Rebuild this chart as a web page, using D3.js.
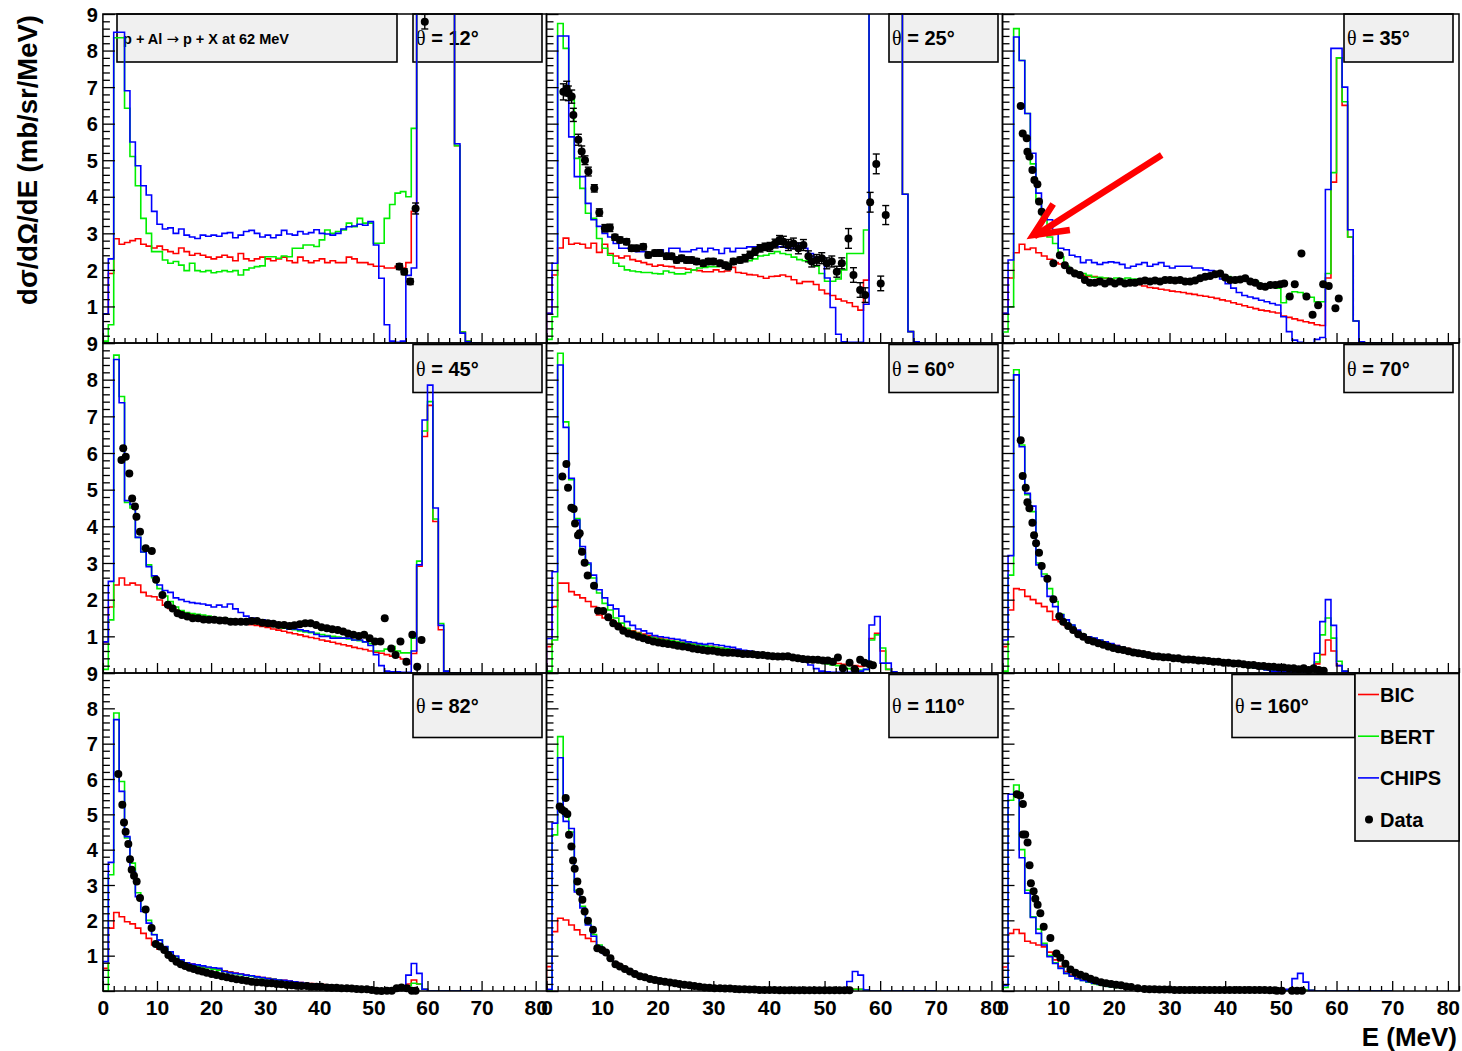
<!DOCTYPE html>
<html><head><meta charset="utf-8">
<script src="https://cdn.jsdelivr.net/npm/d3@7"></script>
<style>
body{margin:0;background:#fff}
svg text{font-family:"Liberation Sans",Arial,Helvetica,sans-serif;font-weight:bold;fill:#000}
</style></head>
<body><svg id="c" width="1462" height="1051"></svg>
<script>
// ---------------- DATA ----------------
const angles = ["12","25","35","45","60","70","82","110","160"];
const modelNames = ["BIC","BERT","CHIPS"];
const xTickValues = [0,10,20,30,40,50,60,70,80];
const yTickValues = [1,2,3,4,5,6,7,8,9];
const titleParts = ["p + Al ","\u2192"," p + X at 62 MeV"];
const yTitle = "d\u03c3/d\u03a9/dE (mb/sr/MeV)";
const xTitle = "E (MeV)";
// histogram bins: 1 MeV wide, 0..70 MeV (values above 9 are off scale)
const bic12 = [0.8,1.9,2.85,2.7,2.75,2.8,2.85,2.7,2.65,2.6,
 2.65,2.55,2.5,2.45,2.6,2.5,2.4,2.45,2.4,2.35,
 2.3,2.35,2.4,2.35,2.25,2.45,2.3,2.25,2.3,2.35,
 2.3,2.25,2.3,2.35,2.25,2.2,2.35,2.25,2.2,2.25,
 2.3,2.2,2.25,2.2,2.2,2.35,2.3,2.2,2.2,2.15,
 2.1,2.1,2.05,2.05,2.1,2.05,2.2,3.6,30,30,
 30,30,30,30,30,5.4,0.3,0.05,0,0];
const bert12 = [0.05,0.5,8.35,8.35,6.42,5.1,4.3,3.41,3.0,2.5,
 2.5,2.27,2.18,2.23,2.13,1.98,2.18,1.98,1.95,1.98,
 1.92,1.95,1.98,1.95,1.98,1.86,2.0,2.05,2.09,2.11,
 2.36,2.36,2.32,2.38,2.36,2.59,2.59,2.68,2.68,2.64,
 2.82,3.09,3.0,3.05,3.09,3.28,3.18,3.41,3.28,3.28,
 2.73,2.73,3.41,3.79,4.1,4.14,4.0,5.87,30,30,
 30,30,30,30,30,5.4,0.3,0.05,0,0];
const chips12 = [0.8,2.3,8.5,8.5,6.9,5.5,4.85,4.3,4.05,3.6,
 3.25,3.12,3.15,3.0,3.12,2.95,2.9,2.86,2.95,2.92,
 2.95,2.92,3.0,3.02,2.88,2.95,3.05,3.08,3.0,2.9,
 2.95,2.88,2.95,3.08,2.98,2.95,3.05,2.98,3.02,3.1,
 3.0,2.98,2.95,3.0,3.12,3.18,3.2,3.25,3.22,3.32,
 2.68,1.77,0.5,0.05,0.02,0.05,1.85,2.05,30,30,
 30,30,30,30,30,5.45,0.27,0.03,0,0];
const data12 = [[54.8,2.09,0.08],[55.7,1.95,0.08],[56.8,1.68,0.08],[57.8,3.68,0.15],[59.5,8.79,0.2]];

const bic25 = [0.81,1.86,2.6,2.87,2.7,2.73,2.7,2.6,2.73,2.48,
 2.7,2.45,2.38,2.33,2.38,2.28,2.24,2.2,2.15,2.1,
 2.13,2.1,2.09,2.05,2.05,2.02,2.0,1.98,1.95,1.95,
 2.0,1.95,1.97,2.07,1.93,1.91,1.87,1.86,1.82,1.77,
 1.82,1.83,1.86,1.82,1.73,1.63,1.68,1.68,1.6,1.45,
 1.35,1.3,1.2,1.15,1.1,1.0,0.9,1.72,30,30,
 30,30,30,30,4.07,0.31,0.03,0,0,0];
const bert25 = [0.1,0.72,8.74,8.06,6.65,5.05,4.23,3.55,3.41,2.86,
 2.59,2.4,2.18,2.1,2.0,1.97,1.95,1.93,1.93,1.9,
 1.89,1.97,1.93,1.89,1.89,1.93,2.0,2.05,2.07,2.09,
 2.09,2.13,2.18,2.18,2.28,2.28,2.25,2.3,2.38,2.4,
 2.45,2.5,2.45,2.42,2.35,2.28,2.25,2.2,2.1,1.9,
 1.69,1.69,1.75,2.0,2.45,2.45,2.45,3.09,30,30,
 30,30,30,30,4.07,0.31,0.03,0,0,0];
const chips25 = [0.81,2.18,8.4,8.4,5.64,4.55,4.55,3.82,3.37,3.19,
 3.0,2.9,2.72,2.59,2.59,2.55,2.5,2.5,2.45,2.45,
 2.55,2.45,2.59,2.59,2.5,2.5,2.55,2.59,2.5,2.59,
 2.55,2.45,2.59,2.5,2.59,2.59,2.63,2.63,2.68,2.68,
 2.63,2.63,2.63,2.59,2.59,2.72,2.59,2.45,2.35,2.35,
 1.78,0.97,0.24,0.03,0.02,0.02,0.02,1.06,30,30,
 30,30,30,30,4.07,0.31,0.03,0,0,0];
const data25 = [[3.03,6.87,0.22],[3.63,6.96,0.2],[3.93,6.83,0.2],[4.53,6.74,0.18],[4.83,6.24,0.18],[5.73,5.56,0.15],[6.33,5.24,0.15],[6.92,5.0,0.12],[7.52,4.69,0.12],[8.6,4.23,0.1],[9.5,3.57,0.1],[10.5,3.14,0.1],[11.4,3.15,0.1],[12.3,2.89,0.08],[13.2,2.82,0.08],[14.4,2.77,0.08],[15.3,2.59,0.08],[16.2,2.59,0.08],[17.4,2.63,0.08],[18.3,2.41,0.08],[19.5,2.46,0.08],[20.4,2.46,0.08],[21.6,2.37,0.08],[22.5,2.37,0.08],[23.4,2.27,0.08],[24.3,2.32,0.08],[25.2,2.27,0.08],[26.1,2.27,0.08],[27.0,2.23,0.08],[28.2,2.18,0.08],[29.1,2.23,0.08],[30.0,2.23,0.08],[31.2,2.18,0.08],[32.1,2.13,0.08],[32.7,2.09,0.08],[33.6,2.23,0.08],[34.8,2.27,0.08],[35.7,2.32,0.1],[36.6,2.41,0.1],[37.5,2.5,0.1],[38.4,2.59,0.1],[39.3,2.63,0.1],[40.2,2.63,0.12],[41.1,2.72,0.12],[41.9,2.82,0.12],[42.6,2.77,0.15],[43.5,2.68,0.15],[44.4,2.72,0.15],[45.3,2.59,0.15],[46.2,2.68,0.15],[47.1,2.37,0.15],[47.7,2.23,0.15],[48.6,2.27,0.15],[49.5,2.32,0.15],[50.4,2.18,0.15],[51.3,2.23,0.15],[52.2,1.95,0.15],[53.1,2.18,0.15],[54.3,2.86,0.27],[55.2,1.86,0.2],[56.4,1.45,0.2],[57.3,1.31,0.2],[58.2,3.85,0.27],[59.3,4.9,0.27],[60.1,1.63,0.2],[61.0,3.5,0.26]];

const bic35 = [0.81,1.78,2.47,2.7,2.56,2.6,2.47,2.38,2.29,2.2,
 2.16,2.07,1.98,1.89,1.85,1.82,1.82,1.77,1.77,1.73,
 1.7,1.68,1.66,1.62,1.6,1.56,1.52,1.5,1.47,1.45,
 1.42,1.4,1.38,1.35,1.33,1.3,1.28,1.25,1.22,1.18,
 1.15,1.1,1.06,1.02,0.98,0.94,0.9,0.88,0.85,0.82,
 0.74,0.7,0.66,0.62,0.58,0.55,0.5,0.48,1.78,4.4,
 7.8,6.5,2.9,0.6,0.03,0,0,0,0,0];
const bert35 = [0.3,0.99,8.6,7.73,6.28,4.9,3.9,3.45,2.9,2.72,
 2.36,2.1,1.98,1.95,1.9,1.85,1.8,1.8,1.78,1.75,
 1.78,1.75,1.78,1.75,1.75,1.72,1.75,1.75,1.72,1.75,
 1.72,1.75,1.72,1.72,1.75,1.78,1.82,1.85,1.82,1.85,
 1.82,1.75,1.72,1.7,1.72,1.68,1.6,1.58,1.55,1.5,
 1.1,1.27,1.4,1.38,1.31,1.25,1.13,1.13,1.9,4.66,
 7.8,6.6,2.9,0.6,0.03,0,0,0,0,0];
const chips35 = [0.81,2.27,8.37,7.73,6.28,5.19,4.1,3.55,3.37,3.0,
 2.59,2.55,2.4,2.36,2.2,2.27,2.2,2.15,2.2,2.22,
 2.2,2.15,2.05,2.1,2.15,2.2,2.1,2.15,2.2,2.1,
 2.05,2.1,2.1,2.1,2.05,2.05,2.0,1.98,1.9,1.75,
 1.62,1.5,1.38,1.3,1.26,1.22,1.17,1.13,1.08,1.04,
 0.72,0.31,0.08,0.02,0,0,0.1,0.15,4.2,8.06,
 8.06,7.0,3.1,0.6,0.03,0,0,0,0,0];
const data35 = [[3.27,6.48],[3.63,5.73],[4.35,5.6],[4.47,5.23],[4.83,5.1],[5.37,4.73],[5.73,4.46],[6.27,4.34],[6.56,3.87],[7.04,3.59],[9.14,2.18],[10.3,2.4],[11.2,2.13],[12.1,1.98],[13.0,1.9],[13.9,1.86],[14.8,1.72],[15.7,1.65],[16.6,1.65],[17.5,1.68],[18.4,1.63],[19.3,1.68],[20.2,1.63],[21.1,1.68],[22.0,1.63],[22.9,1.65],[23.8,1.65],[24.7,1.68],[25.6,1.71],[26.5,1.68],[27.4,1.71],[28.3,1.68],[29.2,1.72],[30.1,1.72],[31.0,1.71],[31.9,1.72],[32.8,1.68],[33.7,1.68],[34.6,1.71],[35.5,1.77],[36.4,1.81],[37.3,1.83],[38.2,1.88],[39.1,1.9],[40.0,1.79],[40.9,1.72],[41.8,1.72],[42.7,1.74],[43.6,1.77],[44.5,1.68],[45.4,1.65],[46.3,1.56],[47.2,1.54],[48.1,1.59],[49.0,1.59],[49.9,1.61],[50.6,1.63],[51.6,1.27],[52.5,1.61],[53.7,2.45],[54.6,1.27],[55.7,0.77],[56.7,1.03],[57.6,1.61],[58.6,1.56],[59.8,0.95],[60.4,1.22]];

const bic45 = [0.83,1.8,2.4,2.59,2.4,2.45,2.4,2.2,2.1,2.08,
 1.99,1.85,1.76,1.72,1.68,1.63,1.6,1.57,1.54,1.52,
 1.5,1.48,1.45,1.43,1.4,1.38,1.35,1.32,1.3,1.27,
 1.24,1.2,1.17,1.14,1.1,1.07,1.04,1.0,0.97,0.94,
 0.9,0.87,0.84,0.8,0.77,0.74,0.7,0.67,0.64,0.6,
 0.57,0.54,0.5,0.46,0.43,0.38,0.25,0.53,2.91,6.45,
 7.3,4.13,1.18,0.05,0,0,0,0,0,0];
const bert45 = [0.1,1.45,8.67,7.54,4.65,4.5,3.7,3.3,2.95,2.6,
 2.3,2.1,1.95,1.8,1.7,1.65,1.62,1.6,1.58,1.55,
 1.52,1.5,1.5,1.48,1.45,1.42,1.4,1.38,1.35,1.33,
 1.3,1.28,1.25,1.22,1.2,1.18,1.15,1.12,1.1,1.08,
 1.05,1.02,1.0,0.98,0.96,0.93,0.9,0.88,0.85,0.8,
 0.6,0.6,0.65,0.72,0.6,0.55,0.55,0.95,3.05,6.6,
 7.4,4.2,1.35,0.05,0,0,0,0,0,0];
const chips45 = [0.85,2.5,8.55,7.37,4.7,4.6,3.7,3.3,2.9,2.65,
 2.4,2.25,2.2,2.05,2.0,1.95,1.92,1.9,1.88,1.85,
 1.8,1.85,1.8,1.88,1.75,1.65,1.55,1.5,1.45,1.45,
 1.42,1.38,1.3,1.25,1.2,1.2,1.18,1.15,1.12,1.05,
 1.0,1.0,0.95,0.95,0.95,0.95,0.9,0.9,0.85,0.75,
 0.5,0.2,0.05,0.03,0.03,0.02,0.02,0.6,2.95,6.9,
 7.85,4.5,1.3,0.05,0,0,0,0,0,0];
const data45 = [[3.43,5.81],[3.76,6.13],[4.22,5.9],[4.88,5.44],[5.41,4.76],[5.93,4.54],[6.2,4.26],[6.86,3.85],[7.91,3.4],[9.04,3.33],[9.83,2.54],[11.0,2.13],[12.0,1.86],[12.9,1.76],[13.8,1.63],[14.6,1.58],[15.6,1.54],[16.6,1.49],[17.6,1.49],[18.6,1.46],[19.6,1.45],[20.6,1.45],[21.6,1.43],[22.6,1.43],[23.6,1.4],[24.5,1.4],[25.5,1.4],[26.5,1.4],[27.5,1.42],[28.5,1.42],[29.5,1.37],[30.5,1.36],[31.5,1.34],[32.5,1.31],[33.5,1.31],[34.5,1.28],[35.4,1.3],[36.4,1.33],[37.4,1.36],[38.4,1.36],[39.4,1.31],[40.4,1.25],[41.4,1.22],[42.4,1.19],[43.4,1.17],[44.4,1.13],[45.3,1.08],[46.3,1.04],[47.3,1.01],[48.3,1.04],[49.3,0.95],[50.3,0.86],[51.3,0.86],[52.1,1.49],[53.3,0.67],[54.1,0.49],[55.0,0.86],[56.1,0.31],[57.2,1.04],[58.1,0.17],[58.9,0.9]];

const bic60 = [0.72,1.81,2.45,2.45,2.22,2.13,2.05,1.95,1.81,1.58,
 1.5,1.45,1.36,1.27,1.2,1.15,1.1,1.06,1.02,0.98,
 0.95,0.92,0.89,0.86,0.84,0.81,0.79,0.77,0.75,0.73,
 0.7,0.68,0.66,0.64,0.62,0.6,0.58,0.56,0.54,0.52,
 0.5,0.48,0.46,0.44,0.42,0.4,0.38,0.36,0.34,0.32,
 0.3,0.28,0.26,0.24,0.22,0.2,0.18,0.2,0.94,1.08,
 0.6,0.1,0.02,0,0,0,0,0,0,0];
const bert60 = [0.05,0.9,8.72,6.85,5.27,4.21,3.27,2.96,2.59,2.18,
 1.9,1.72,1.5,1.36,1.22,1.13,1.08,1.02,0.99,0.95,
 0.92,0.9,0.88,0.86,0.83,0.8,0.78,0.76,0.74,0.72,
 0.7,0.68,0.66,0.63,0.61,0.58,0.56,0.54,0.52,0.5,
 0.48,0.46,0.44,0.42,0.4,0.37,0.35,0.33,0.3,0.28,
 0.25,0.22,0.2,0.15,0.12,0.1,0.08,0.1,0.9,1.04,
 0.68,0.1,0.02,0,0,0,0,0,0,0];
const chips60 = [0.94,2.76,8.4,6.7,5.31,4.17,3.45,3.0,2.67,2.27,
 2.05,1.85,1.75,1.55,1.4,1.3,1.2,1.15,1.08,1.02,
 0.99,0.97,0.94,0.92,0.89,0.85,0.83,0.8,0.78,0.8,
 0.77,0.75,0.72,0.7,0.65,0.62,0.6,0.57,0.55,0.52,
 0.5,0.48,0.44,0.42,0.38,0.35,0.3,0.22,0.12,0.05,
 0.03,0.02,0.02,0.02,0.02,0.02,0.05,0.1,1.31,1.54,
 0.27,0.27,0.03,0,0,0,0,0,0,0];
const data60 = [[2.85,5.36],[3.57,5.7],[3.87,5.05],[4.47,4.51],[4.89,4.47],[5.13,4.08],[5.67,3.76],[5.97,3.81],[6.38,3.31],[6.86,3.01],[7.4,2.66],[8.54,2.38],[9.26,1.7],[10.2,1.69],[11.1,1.52],[12.0,1.36],[12.9,1.27],[13.8,1.15],[14.7,1.08],[15.6,1.04],[16.5,0.99],[17.4,0.95],[18.3,0.9],[19.2,0.86],[20.1,0.83],[20.95,0.81],[21.85,0.79],[22.8,0.77],[23.6,0.74],[24.5,0.72],[25.5,0.7],[26.3,0.67],[27.2,0.65],[28.1,0.63],[29.0,0.61],[29.9,0.61],[30.8,0.58],[31.7,0.56],[32.6,0.55],[33.5,0.55],[34.4,0.54],[35.3,0.52],[36.2,0.52],[37.1,0.51],[38.0,0.49],[38.9,0.49],[39.8,0.47],[40.7,0.46],[41.6,0.45],[42.5,0.45],[43.4,0.46],[44.3,0.42],[45.2,0.4],[46.1,0.38],[47.0,0.37],[47.9,0.36],[48.8,0.36],[49.7,0.34],[50.6,0.34],[51.5,0.31],[52.4,0.42],[53.3,0.13],[54.5,0.28],[55.4,0.11],[56.4,0.36],[57.2,0.28],[58.1,0.24],[58.7,0.21]];

const bic70 = [0.72,1.72,2.3,2.27,2.09,2.0,1.9,1.81,1.68,1.45,
 1.4,1.3,1.2,1.1,1.02,0.96,0.92,0.88,0.83,0.79,
 0.75,0.71,0.67,0.63,0.59,0.56,0.53,0.5,0.48,0.46,
 0.44,0.42,0.4,0.38,0.36,0.34,0.32,0.3,0.28,0.26,
 0.24,0.22,0.2,0.18,0.16,0.14,0.12,0.1,0.08,0.07,
 0.06,0.06,0.06,0.06,0.06,0.06,0.25,0.5,0.9,0.6,
 0.2,0.04,0,0,0,0,0,0,0,0];
const bert70 = [0.05,2.67,8.27,6.22,4.86,4.4,3.0,2.7,2.3,1.95,
 1.6,1.45,1.3,1.15,1.05,0.98,0.94,0.89,0.84,0.79,
 0.74,0.7,0.66,0.62,0.58,0.55,0.52,0.49,0.47,0.45,
 0.43,0.41,0.39,0.37,0.35,0.33,0.31,0.29,0.27,0.25,
 0.23,0.21,0.19,0.17,0.15,0.13,0.11,0.09,0.07,0.06,
 0.05,0.05,0.05,0.05,0.05,0.05,0.3,1.04,1.5,0.95,
 0.32,0.05,0,0,0,0,0,0,0,0];
const chips70 = [0.9,3.2,8.13,6.17,4.9,4.55,2.95,2.63,2.09,1.81,
 1.59,1.45,1.31,1.17,1.04,0.99,0.95,0.9,0.85,0.8,
 0.75,0.7,0.66,0.62,0.58,0.55,0.52,0.5,0.47,0.45,
 0.43,0.41,0.39,0.37,0.35,0.33,0.31,0.3,0.28,0.27,
 0.25,0.23,0.21,0.19,0.17,0.14,0.12,0.08,0.05,0.04,
 0.03,0.03,0.03,0.03,0.03,0.05,0.54,1.4,2.0,1.3,
 0.2,0.05,0,0,0,0,0,0,0,0];
const data70 = [[3.27,6.35],[3.63,5.37],[4.17,5.05],[4.47,4.66],[4.83,4.49],[5.37,4.1],[5.67,3.76],[6.03,3.54],[6.56,3.28],[7.04,2.92],[8.06,2.57],[9.14,2.01],[10.2,1.55],[10.9,1.4],[11.8,1.28],[12.7,1.17],[13.6,1.06],[14.5,0.99],[15.4,0.9],[16.3,0.86],[17.2,0.81],[18.1,0.77],[19.0,0.72],[19.9,0.68],[20.8,0.65],[21.7,0.63],[22.6,0.59],[23.5,0.56],[24.4,0.54],[25.3,0.52],[26.2,0.49],[27.1,0.46],[28.0,0.45],[28.9,0.43],[29.8,0.43],[30.7,0.4],[31.6,0.4],[32.5,0.37],[33.4,0.37],[34.3,0.36],[35.2,0.34],[36.1,0.34],[37.0,0.33],[37.9,0.31],[38.8,0.31],[39.7,0.28],[40.6,0.28],[41.5,0.26],[42.4,0.26],[43.3,0.24],[44.2,0.22],[45.1,0.22],[46.0,0.19],[46.9,0.19],[47.8,0.17],[48.7,0.17],[49.6,0.15],[50.5,0.15],[51.4,0.13],[52.3,0.13],[53.2,0.1],[54.1,0.13],[55.0,0.08],[55.9,0.13],[56.8,0.08],[57.7,0.06]];

const bic82 = [0.64,1.78,2.22,2.1,1.96,1.9,1.78,1.63,1.49,1.3,
 1.18,1.1,1.0,0.92,0.86,0.8,0.76,0.72,0.69,0.66,
 0.63,0.6,0.57,0.54,0.51,0.48,0.45,0.43,0.41,0.38,
 0.36,0.34,0.32,0.3,0.28,0.26,0.24,0.22,0.21,0.19,
 0.18,0.16,0.15,0.14,0.13,0.12,0.1,0.09,0.08,0.07,
 0.06,0.06,0.05,0.05,0.05,0.08,0.2,0.31,0.2,0.05,
 0,0,0,0,0,0,0,0,0,0];
const bert82 = [0,3.29,7.87,5.93,4.33,3.62,2.78,2.3,2.0,1.6,
 1.45,1.25,1.1,0.97,0.86,0.78,0.74,0.71,0.68,0.65,
 0.62,0.59,0.55,0.52,0.49,0.46,0.44,0.42,0.39,0.37,
 0.35,0.33,0.31,0.29,0.27,0.25,0.23,0.21,0.2,0.18,
 0.17,0.16,0.14,0.13,0.12,0.11,0.1,0.09,0.08,0.07,
 0.06,0.06,0.05,0.05,0.05,0.08,0.15,0.22,0.2,0.05,
 0,0,0,0,0,0,0,0,0,0];
const chips82 = [0.83,3.64,7.68,5.65,4.37,3.38,2.67,2.25,1.92,1.59,
 1.44,1.26,1.11,0.99,0.88,0.8,0.76,0.74,0.71,0.68,
 0.66,0.64,0.55,0.52,0.5,0.48,0.45,0.43,0.4,0.38,
 0.35,0.33,0.31,0.3,0.28,0.26,0.24,0.22,0.2,0.19,
 0.17,0.16,0.15,0.14,0.13,0.12,0.1,0.09,0.08,0.07,
 0.06,0.05,0.05,0.05,0.05,0.1,0.45,0.78,0.5,0.05,
 0,0,0,0,0,0,0,0,0,0];
const data82 = [[2.85,6.14],[3.59,5.27],[3.9,4.77],[4.2,4.51],[4.7,4.16],[5.01,3.73],[5.32,3.43],[5.75,3.26],[6.24,3.1],[6.86,2.63],[7.9,2.31],[9.0,1.78],[9.76,1.33],[10.55,1.26],[11.35,1.16],[12.1,1.02],[12.8,0.93],[13.6,0.83],[14.4,0.76],[15.2,0.71],[16.0,0.66],[16.8,0.62],[17.6,0.58],[18.4,0.55],[19.2,0.52],[20.1,0.48],[21.0,0.45],[22.0,0.42],[22.9,0.39],[23.8,0.36],[24.7,0.33],[25.7,0.31],[26.6,0.29],[27.5,0.26],[28.4,0.25],[29.4,0.24],[30.3,0.22],[31.2,0.22],[32.1,0.2],[33.0,0.19],[34.0,0.17],[34.9,0.16],[35.8,0.15],[36.7,0.14],[37.7,0.14],[38.6,0.12],[39.5,0.12],[40.4,0.12],[41.4,0.1],[42.3,0.09],[43.2,0.09],[44.1,0.08],[45.1,0.08],[46.0,0.07],[46.9,0.06],[47.8,0.05],[48.8,0.05],[49.7,0.03],[50.6,0.01],[51.5,0.0],[52.5,0.01],[53.4,0.01],[54.3,0.08],[55.2,0.1],[56.2,0.08],[57.1,0.01],[57.8,0.01]];

const bic110 = [0.69,1.68,2.06,2.01,1.87,1.73,1.59,1.49,1.4,1.26,
 1.08,0.92,0.8,0.7,0.62,0.55,0.49,0.44,0.39,0.35,
 0.32,0.29,0.26,0.23,0.2,0.18,0.16,0.14,0.12,0.1,
 0.09,0.08,0.07,0.06,0.05,0.05,0.04,0.04,0.03,0.03,
 0.03,0.03,0.03,0.03,0.02,0.02,0.02,0.02,0.02,0.02,
 0.02,0.02,0.02,0.02,0.03,0.05,0.05,0.02,0,0,
 0,0,0,0,0,0,0,0,0,0];
const bert110 = [0,4.42,7.2,4.94,4.5,2.85,2.4,1.9,1.6,1.3,
 1.08,0.9,0.78,0.68,0.6,0.53,0.47,0.42,0.38,0.35,
 0.32,0.29,0.26,0.23,0.2,0.18,0.16,0.14,0.12,0.1,
 0.09,0.08,0.07,0.06,0.05,0.05,0.04,0.04,0.03,0.03,
 0.03,0.03,0.03,0.03,0.02,0.02,0.02,0.02,0.02,0.02,
 0.02,0.02,0.02,0.02,0.03,0.05,0.05,0.02,0,0,
 0,0,0,0,0,0,0,0,0,0];
const chips110 = [0.05,4.75,6.6,4.8,4.6,2.8,2.35,1.87,1.55,1.26,
 1.06,0.9,0.78,0.68,0.62,0.55,0.48,0.43,0.4,0.37,
 0.33,0.3,0.27,0.24,0.21,0.18,0.16,0.14,0.12,0.1,
 0.09,0.08,0.07,0.06,0.05,0.05,0.04,0.04,0.03,0.03,
 0.03,0.03,0.03,0.03,0.02,0.02,0.02,0.02,0.02,0.02,
 0.02,0.02,0.02,0.02,0.27,0.55,0.45,0.03,0,0,
 0,0,0,0,0,0,0,0,0,0];
const data110 = [[2.37,5.22],[2.79,5.13],[3.27,5.08],[3.45,5.46],[3.75,5.01],[4.05,4.42],[4.47,4.09],[4.77,3.69],[5.07,3.46],[5.55,3.1],[5.97,2.81],[6.45,2.58],[6.86,2.25],[7.46,1.99],[8.36,1.73],[9.14,1.21],[10.0,1.16],[10.7,1.09],[11.5,0.93],[12.4,0.76],[13.2,0.69],[14.1,0.62],[15.0,0.55],[15.9,0.48],[16.8,0.42],[17.7,0.39],[18.6,0.34],[19.5,0.31],[20.4,0.28],[21.3,0.26],[22.2,0.24],[23.1,0.22],[23.9,0.2],[24.8,0.18],[25.7,0.16],[26.6,0.14],[27.5,0.12],[28.4,0.1],[29.3,0.09],[30.2,0.08],[31.2,0.08],[32.1,0.07],[33.0,0.07],[33.9,0.06],[34.7,0.05],[35.6,0.05],[36.5,0.04],[37.4,0.04],[38.3,0.03],[39.2,0.03],[40.1,0.03],[41.0,0.03],[41.9,0.02],[42.8,0.02],[43.7,0.02],[44.6,0.02],[45.5,0.02],[46.4,0.02],[47.3,0.02],[48.2,0.02],[49.1,0.02],[50.0,0.02],[50.9,0.02],[51.8,0.02],[52.7,0.02],[53.6,0.02],[54.5,0.02]];

const bic160 = [0.68,1.63,1.74,1.63,1.41,1.36,1.3,1.25,1.1,0.88,
 0.7,0.55,0.45,0.38,0.32,0.27,0.23,0.2,0.17,0.14,
 0.12,0.1,0.09,0.08,0.07,0.06,0.05,0.04,0.04,0.03,
 0.03,0.02,0.02,0.02,0.02,0.02,0.02,0.02,0.02,0.02,
 0.02,0.02,0.02,0.02,0.02,0.02,0.02,0.02,0.02,0.02,
 0.02,0.02,0.03,0.05,0.03,0.02,0,0,0,0,
 0,0,0,0,0,0,0,0,0,0];
const bert160 = [0.1,5.4,5.83,4.0,2.85,2.1,1.75,1.35,1.0,0.8,
 0.65,0.5,0.42,0.35,0.3,0.25,0.21,0.18,0.15,0.12,
 0.1,0.09,0.08,0.07,0.06,0.05,0.04,0.04,0.03,0.03,
 0.03,0.02,0.02,0.02,0.02,0.02,0.02,0.02,0.02,0.02,
 0.02,0.02,0.02,0.02,0.02,0.02,0.02,0.02,0.02,0.02,
 0.02,0.02,0.03,0.05,0.03,0.02,0,0,0,0,
 0,0,0,0,0,0,0,0,0,0];
const chips160 = [0.16,5.57,5.57,3.77,2.77,2.08,1.63,1.3,0.97,0.78,
 0.64,0.5,0.42,0.35,0.3,0.26,0.22,0.19,0.16,0.13,
 0.11,0.09,0.08,0.07,0.06,0.05,0.04,0.04,0.03,0.03,
 0.03,0.02,0.02,0.02,0.02,0.02,0.02,0.02,0.02,0.02,
 0.02,0.02,0.02,0.02,0.02,0.02,0.02,0.02,0.02,0.02,
 0.02,0.05,0.35,0.5,0.25,0.02,0,0,0,0,
 0,0,0,0,0,0,0,0,0,0];
const data160 = [[2.57,5.57],[3.17,5.53],[3.66,5.29],[3.66,4.43],[4.08,4.43],[4.5,4.2],[4.86,3.56],[5.1,3.05],[5.59,2.82],[5.89,2.61],[6.31,2.44],[6.8,2.2],[7.4,1.82],[8.6,1.5],[9.69,1.06],[10.4,0.94],[11.3,0.77],[12.2,0.61],[13.1,0.52],[14.0,0.46],[14.9,0.41],[15.8,0.35],[16.7,0.3],[17.7,0.25],[18.6,0.22],[19.5,0.2],[20.4,0.18],[21.3,0.16],[22.2,0.13],[23.1,0.11],[24.3,0.08],[25.5,0.06],[26.4,0.05],[27.3,0.05],[28.2,0.04],[29.1,0.04],[30.0,0.04],[30.9,0.03],[31.8,0.03],[32.7,0.03],[33.6,0.03],[34.5,0.03],[35.4,0.03],[36.3,0.03],[37.2,0.03],[38.1,0.03],[39.0,0.03],[39.9,0.03],[40.8,0.03],[41.7,0.03],[42.6,0.03],[43.5,0.03],[44.4,0.03],[45.3,0.03],[46.2,0.03],[47.1,0.03],[48.0,0.02],[48.9,0.02],[49.3,0.01],[50.2,0.01],[52.0,0.01],[52.9,0.01],[53.8,0.01]];

// annotation arrow on the 35 deg panel (in data units: E, value)
const arrowShaft = [[28.6,5.14],[5.7,2.92]];
const arrowHead = [[9.1,3.8],[5.5,2.95],[12.1,3.09]];

// ---------------- LAYOUT ----------------
const svg = d3.select("#c");
const colX = [[102.9,546.5],[546.5,1002.5],[1002.5,1459]];
const rowY = [[343,14],[673,343],[991,673]];
const colors = {bic:"#ff0000", bert:"#00ee00", chips:"#0000ff"};
const panels = [
 {ang:angles[0],bic:bic12,bert:bert12,chips:chips12,data:data12},
 {ang:angles[1],bic:bic25,bert:bert25,chips:chips25,data:data25},
 {ang:angles[2],bic:bic35,bert:bert35,chips:chips35,data:data35},
 {ang:angles[3],bic:bic45,bert:bert45,chips:chips45,data:data45},
 {ang:angles[4],bic:bic60,bert:bert60,chips:chips60,data:data60},
 {ang:angles[5],bic:bic70,bert:bert70,chips:chips70,data:data70},
 {ang:angles[6],bic:bic82,bert:bert82,chips:chips82,data:data82},
 {ang:angles[7],bic:bic110,bert:bert110,chips:chips110,data:data110},
 {ang:angles[8],bic:bic160,bert:bert160,chips:chips160,data:data160}
];
const boxW = [129,109,109];
const boxGap = [4.5,4.5,6];
const boxH = [48,48,63];

const defs = svg.append("defs");

panels.forEach((p,idx)=>{
  const c = idx%3, r = Math.floor(idx/3);
  const x = d3.scaleLinear().domain([0,82]).range(colX[c]);
  const y = d3.scaleLinear().domain([0,9]).range(rowY[r]);
  p.x = x; p.y = y;
  const fx0 = colX[c][0], fx1 = colX[c][1], fy0 = rowY[r][1], fy1 = rowY[r][0];
  const g = svg.append("g");
  const cid = "clip"+idx;
  defs.append("clipPath").attr("id",cid).append("rect")
    .attr("x",fx0).attr("y",fy0).attr("width",fx1-fx0).attr("height",fy1-fy0);

  // label boxes
  const bx1 = (idx===8) ? 1355 : fx1 - boxGap[c];
  const bx0 = bx1 - ((idx===8) ? 123 : boxW[c]);
  const by0 = fy0 + (r===0 ? 0 : 1.5);
  g.append("rect").attr("x",bx0).attr("y",by0).attr("width",bx1-bx0).attr("height",boxH[r])
    .attr("fill","#f0f0f0").attr("stroke","#000").attr("stroke-width",1.6);
  const t = g.append("text").attr("x",bx0+3).attr("y",by0+boxH[r]/2+7).attr("font-size",20);
  t.append("tspan").text("\u03b8").attr("font-family","'Liberation Serif','DejaVu Serif',serif").attr("font-weight","normal");
  t.append("tspan").text(" = "+p.ang+"\u00b0");
  if(idx===0){
    g.append("rect").attr("x",117).attr("y",fy0).attr("width",280).attr("height",48)
      .attr("fill","#f0f0f0").attr("stroke","#000").attr("stroke-width",1.6);
    const tt = g.append("text").attr("x",123).attr("y",fy0+30).attr("font-size",14.5);
    tt.append("tspan").text(titleParts[0]);
    tt.append("tspan").text(titleParts[1]).attr("font-family","'DejaVu Sans',sans-serif").attr("font-weight","normal").attr("font-size",15);
    tt.append("tspan").text(titleParts[2]);
  }

  // histograms
  const hg = g.append("g").attr("clip-path","url(#"+cid+")");
  const line = d3.line().x(d=>x(d[0])).y(d=>y(Math.min(d[1],9.8))).curve(d3.curveStepAfter);
  ["bic","bert","chips"].forEach(k=>{
    const vals = p[k];
    const pts = [[0,0]];
    vals.forEach((v,i)=>pts.push([i,v]));
    pts.push([vals.length, vals[vals.length-1]]);
    pts.push([vals.length, 0]);
    hg.append("path").attr("d",line(pts)).attr("fill","none")
      .attr("stroke",colors[k]).attr("stroke-width",1.6);
  });

  // data points with error bars
  const dg = g.append("g");
  p.data.forEach(d=>{
    if(d[2]){
      const cx = x(d[0]);
      dg.append("line").attr("x1",cx).attr("x2",cx).attr("y1",y(d[1]-d[2])).attr("y2",y(d[1]+d[2]))
        .attr("stroke","#000").attr("stroke-width",1.4);
      [d[1]-d[2], d[1]+d[2]].forEach(v=>dg.append("line").attr("x1",cx-3.5).attr("x2",cx+3.5)
        .attr("y1",y(v)).attr("y2",y(v)).attr("stroke","#000").attr("stroke-width",1.4));
    }
    dg.append("circle").attr("cx",x(d[0])).attr("cy",y(d[1])).attr("r",4).attr("fill","#000");
  });

  // axes (ticks inside frame)
  const ag = svg.append("g").attr("class","ax");
  const yMinor = d3.range(0,9.01,0.2).filter(v=>Math.abs(v-Math.round(v))>1e-6);
  ag.append("g").attr("transform",`translate(${fx0},0)`)
    .call(d3.axisRight(y).tickValues(d3.range(0,10)).tickSize(12).tickFormat(""));
  ag.append("g").attr("transform",`translate(${fx0},0)`)
    .call(d3.axisRight(y).tickValues(yMinor).tickSize(7).tickFormat(""));
  const xMinor = d3.range(0,82.01,2).filter(v=>v%10!==0);
  ag.append("g").attr("transform",`translate(0,${fy1})`)
    .call(d3.axisTop(x).tickValues(xTickValues).tickSize(10).tickFormat(""));
  ag.append("g").attr("transform",`translate(0,${fy1})`)
    .call(d3.axisTop(x).tickValues(xMinor).tickSize(5).tickFormat(""));
  ag.selectAll(".domain").remove();
  ag.selectAll("line").attr("stroke","#000").attr("stroke-width",1.3);

  if(c===0){
    const la = svg.append("g").attr("transform",`translate(${fx0},0)`)
      .call(d3.axisLeft(y).tickValues(yTickValues).tickSize(0).tickPadding(5).tickFormat(d3.format("d")));
    la.select(".domain").remove();
    la.selectAll("text").attr("font-size",20).attr("font-family","'Liberation Sans',Arial,sans-serif").attr("font-weight","bold").attr("dy","0.36em");
  }
  if(r===2){
    const lb = svg.append("g").attr("transform",`translate(0,${fy1})`)
      .call(d3.axisBottom(x).tickValues(xTickValues).tickSize(0).tickPadding(9).tickFormat(d3.format("d")));
    lb.select(".domain").remove();
    lb.selectAll("text").attr("font-size",21).attr("font-family","'Liberation Sans',Arial,sans-serif").attr("font-weight","bold");
  }

  // frame
  svg.append("rect").attr("x",fx0).attr("y",fy0).attr("width",fx1-fx0).attr("height",fy1-fy0)
    .attr("fill","none").attr("stroke","#000").attr("stroke-width",1.5);
});

// arrow annotation on 35 deg panel
{
  const p = panels[2];
  const al = d3.line().x(d=>p.x(d[0])).y(d=>p.y(d[1]));
  svg.append("path").attr("d",al(arrowShaft)).attr("stroke","#ff0000").attr("stroke-width",6.5).attr("fill","none");
  svg.append("path").attr("d",al(arrowHead)).attr("stroke","#ff0000").attr("stroke-width",6.5)
    .attr("fill","none").attr("stroke-linejoin","miter").attr("stroke-linecap","butt");
}

// legend
{
  const lx0 = 1355, ly0 = 673.5, lw = 104, lh = 167.5;
  const lg = svg.append("g");
  lg.append("rect").attr("x",lx0).attr("y",ly0).attr("width",lw).attr("height",lh)
    .attr("fill","#f0f0f0").attr("stroke","#000").attr("stroke-width",1.6);
  const entries = [["BIC",colors.bic],["BERT",colors.bert],["CHIPS",colors.chips],["Data",null]];
  entries.forEach((e,i)=>{
    const cy = ly0 + 21 + i*41.7;
    if(e[1]) lg.append("line").attr("x1",lx0+3).attr("x2",lx0+24).attr("y1",cy).attr("y2",cy)
      .attr("stroke",e[1]).attr("stroke-width",1.6);
    else lg.append("circle").attr("cx",lx0+14).attr("cy",cy).attr("r",4).attr("fill","#000");
    lg.append("text").attr("x",lx0+25).attr("y",cy+7.5).attr("font-size",20).text(e[0]);
  });
}

// axis titles
svg.append("text").attr("transform","translate(37,15) rotate(-90)").attr("text-anchor","end")
  .attr("font-size",27.5).text(yTitle);
svg.append("text").attr("x",1457).attr("y",1046).attr("text-anchor","end").attr("font-size",26).text(xTitle);
</script></body></html>
